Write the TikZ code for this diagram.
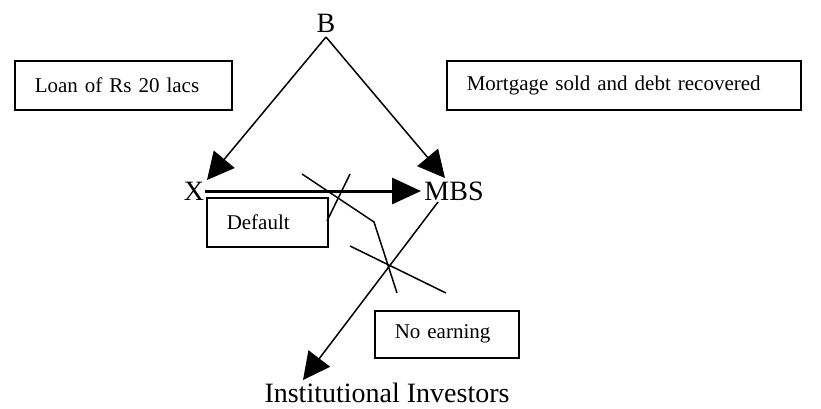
\documentclass[tikz,border=0pt]{standalone}
\usepackage{fontspec}
\setmainfont{Liberation Serif}
\usetikzlibrary{arrows.meta}
\tikzset{
  x=1pt, y=-1pt,
  thin line/.style={line width=1.5pt, line cap=butt},
  bigtext/.style={inner sep=0pt, font=\fontsize{28}{32}\selectfont},
  textbox/.style={draw, line width=1.5pt, anchor=north west, align=left,
     inner xsep=20pt, inner ysep=0pt, font=\fontsize{21}{25}\selectfont},
  bigarrow/.style={thin line, -{Triangle[length=27pt,width=27pt]}},
  flowarrow/.style={line width=3pt, -{Triangle[length=29pt,width=26pt]}}
}
\begin{document}
\begin{tikzpicture}
\useasboundingbox (0,0) rectangle (821,408);
% labels
\node[bigtext] (B) at (326,23) {B};
\node[bigtext] (X) at (194,191) {X};
\node[bigtext] (MBS) at (454,191) {MBS};
\node[bigtext] (II) at (387,393) {Institutional Investors};
% boxes
\node[textbox, text width=177pt, minimum height=49pt] (loan) at (14,60) {Loan of Rs 20 lacs};
\node[textbox, text width=314pt, minimum height=49pt] (mort) at (446,60) {Mortgage sold and debt recovered};
\node[textbox, text width=81pt, minimum height=49pt] (def) at (206,197) {Default};
\node[textbox, text width=104pt, minimum height=47pt] (noearn) at (374,310) {No earning};
% connector end points
\coordinate (apex) at (326,37);
\coordinate (xtip) at (207,180);
\coordinate (mtip) at (445,178);
\coordinate (xstart) at (205,191);
\coordinate (mleft) at (421,191);
\coordinate (mbot) at (438,202);
\coordinate (itip) at (303,380);
% arrows
\draw[bigarrow] (apex) -- (xtip);
\draw[bigarrow] (apex) -- (mtip);
\draw[flowarrow] (xstart) -- (mleft);
\draw[bigarrow] (mbot) -- (itip);
% crossing marks
\coordinate (c1a) at (302,174);
\coordinate (c1b) at (374,222);
\coordinate (c1c) at (397,293);
\coordinate (c2a) at (350,174);
\coordinate (c2b) at (327,221);
\coordinate (c3a) at (350,246);
\coordinate (c3b) at (446,293);
\draw[thin line] (c1a) -- (c1b) -- (c1c);
\draw[thin line] (c2a) -- (c2b);
\draw[thin line] (c3a) -- (c3b);
\end{tikzpicture}
\end{document}
